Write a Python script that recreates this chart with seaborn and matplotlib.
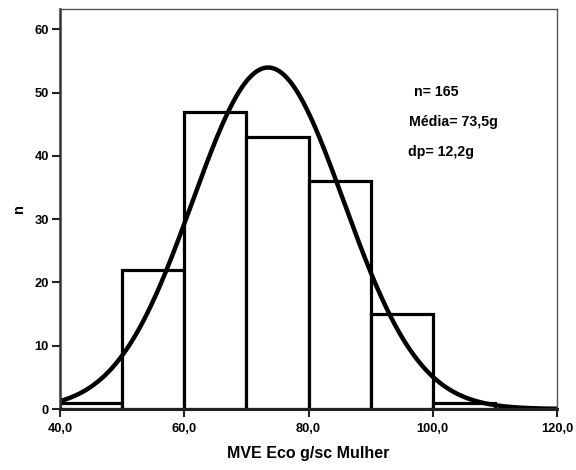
import numpy as np
import pandas as pd
import matplotlib
matplotlib.use("Agg")
import matplotlib.pyplot as plt
import seaborn as sns

# Data
bin_edges = [40, 50, 60, 70, 80, 90, 100, 110]
counts = [1, 22, 47, 43, 36, 15, 1]
n_total = 165
mean_val = 73.5
sd_val = 12.2
x_ticks = [40, 60, 80, 100, 120]
x_tick_labels = ["40,0", "60,0", "80,0", "100,0", "120,0"]
y_ticks = [0, 10, 20, 30, 40, 50, 60]

sns.set_theme(style="white")
plt.rcParams['font.family'] = ['Liberation Sans', 'DejaVu Sans']
plt.rcParams['font.weight'] = 'bold'
plt.rcParams['text.color'] = 'black'
plt.rcParams['axes.labelcolor'] = 'black'
plt.rcParams['xtick.color'] = 'black'
plt.rcParams['ytick.color'] = 'black'
plt.rcParams['xtick.labelsize'] = 9.3
plt.rcParams['ytick.labelsize'] = 9.3

fig = plt.figure(figsize=(5.76, 4.70), dpi=100)
ax = fig.add_axes([60/576, 1-409/470, (557-60)/576, (409-9)/470])

centers = [(bin_edges[i] + bin_edges[i+1]) / 2 for i in range(len(counts))]
df = pd.DataFrame({"x": centers, "w": counts})
sns.histplot(data=df, x="x", weights="w", bins=bin_edges, ax=ax,
             color="white", edgecolor="black", linewidth=2.3, alpha=1)

# Fitted normal curve (from the stated n, mean, sd)
bw = bin_edges[1] - bin_edges[0]
xs = np.linspace(40, 120, 400)
ys = n_total * bw / (sd_val * np.sqrt(2 * np.pi)) * np.exp(-0.5 * ((xs - mean_val) / sd_val) ** 2)
sns.lineplot(x=xs, y=ys, ax=ax, color="black", linewidth=3.2)

ax.set_xlim(40, 120)
ax.set_ylim(0, 63.2)
ax.set_xticks(x_ticks)
ax.set_xticklabels(x_tick_labels, fontweight="bold", fontsize=9.3)
ax.set_yticks(y_ticks)
ax.set_yticklabels([str(v) for v in y_ticks], fontweight="bold", fontsize=9.3)
ax.tick_params(axis="x", direction="out", length=6, width=1.5, color="#222222", pad=4, bottom=True,
               labelsize=9.3, labelcolor="black")
ax.tick_params(axis="y", direction="out", length=6, width=1.5, color="#222222", pad=2, left=True,
               labelsize=9.3, labelcolor="black")

for side in ["top", "right"]:
    ax.spines[side].set_color("#555555")
    ax.spines[side].set_linewidth(1)
ax.spines["left"].set_color("#333333")
ax.spines["left"].set_linewidth(1.8)
ax.spines["bottom"].set_color("#222222")
ax.spines["bottom"].set_linewidth(2.2)

ax.set_xlabel("MVE Eco g/sc Mulher", fontsize=11.5, fontweight="bold", labelpad=8, color="black")
ax.set_ylabel("n", fontsize=10.5, fontweight="bold", labelpad=6, color="black")

ax.text(414/576, 1-92/470, "n= 165", transform=fig.transFigure, fontsize=10.2,
        fontweight="bold", va="center", ha="left", color="black")
ax.text(409/576, 1-122/470, "Média= 73,5g", transform=fig.transFigure, fontsize=10.2,
        fontweight="bold", va="center", ha="left", color="black")
ax.text(408/576, 1-152/470, "dp= 12,2g", transform=fig.transFigure, fontsize=10.2,
        fontweight="bold", va="center", ha="left", color="black")

fig.savefig("out.png", dpi=100)
